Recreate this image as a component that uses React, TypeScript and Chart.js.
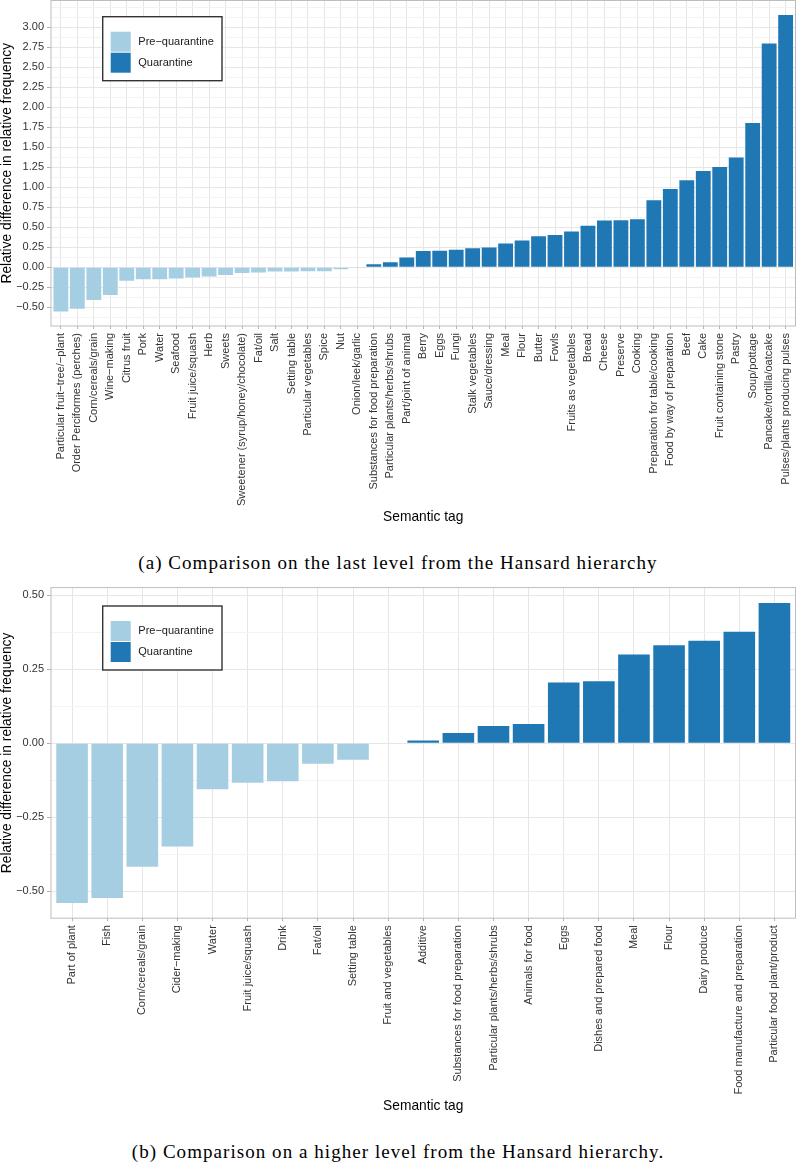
import React, { useEffect, useRef } from 'react';
import { Chart, registerables } from 'chart.js';

Chart.register(...registerables);

// ---------- data ----------
const CATS_A = [
  'Particular fruit−tree/−plant', 'Order Perciformes (perches)', 'Corn/cereals/grain', 'Wine−making',
  'Citrus fruit', 'Pork', 'Water', 'Seafood', 'Fruit juice/squash', 'Herb', 'Sweets',
  'Sweetener (syrup/honey/chocolate)', 'Fat/oil', 'Salt', 'Setting table', 'Particular vegetables',
  'Spice', 'Nut', 'Onion/leek/garlic', 'Substances for food preparation', 'Particular plants/herbs/shrubs',
  'Part/joint of animal', 'Berry', 'Eggs', 'Fungi', 'Stalk vegetables', 'Sauce/dressing', 'Meal',
  'Flour', 'Butter', 'Fowls', 'Fruits as vegetables', 'Bread', 'Cheese', 'Preserve', 'Cooking',
  'Preparation for table/cooking', 'Food by way of preparation', 'Beef', 'Cake',
  'Fruit containing stone', 'Pastry', 'Soup/pottage', 'Pancake/tortilla/oatcake',
  'Pulses/plants producing pulses',
];
const VALS_A = [
  -0.554, -0.52, -0.41, -0.346, -0.17, -0.152, -0.15, -0.142, -0.13, -0.117, -0.096,
  -0.071, -0.067, -0.055, -0.054, -0.05, -0.05, -0.025, -0.003, 0.0375, 0.0625,
  0.12, 0.204, 0.205, 0.217, 0.2375, 0.246, 0.296,
  0.333, 0.3875, 0.404, 0.446, 0.517, 0.583, 0.5875, 0.6,
  0.8375, 0.979, 1.0875, 1.204,
  1.254, 1.371, 1.804, 2.796,
  3.154,
];

const CATS_B = [
  'Part of plant', 'Fish', 'Corn/cereals/grain', 'Cider−making', 'Water', 'Fruit juice/squash',
  'Drink', 'Fat/oil', 'Setting table', 'Fruit and vegetables', 'Additive',
  'Substances for food preparation', 'Particular plants/herbs/shrubs', 'Animals for food', 'Eggs',
  'Dishes and prepared food', 'Meal', 'Flour', 'Dairy produce', 'Food manufacture and preparation',
  'Particular food plant/product',
];
const VALS_B = [
  -0.54, -0.523, -0.417, -0.349, -0.155, -0.133, -0.128, -0.069, -0.056, 0.0, 0.009,
  0.035, 0.058, 0.065, 0.205, 0.21, 0.30, 0.331, 0.346, 0.377, 0.474,
];

const Y_MAJOR_A = [-0.5, -0.25, 0, 0.25, 0.5, 0.75, 1, 1.25, 1.5, 1.75, 2, 2.25, 2.5, 2.75, 3];
const Y_MINOR_A = [-0.625, -0.375, -0.125, 0.125, 0.375, 0.625, 0.875, 1.125, 1.375, 1.625, 1.875,
  2.125, 2.375, 2.625, 2.875, 3.125, 3.25];
const Y_MAJOR_B = [-0.5, -0.25, 0, 0.25, 0.5];
const Y_MINOR_B = [-0.375, -0.125, 0.125, 0.375];

const LEGEND_LABELS = ['Pre−quarantine', 'Quarantine'];
const Y_TITLE = 'Relative difference in relative frequency';
const X_TITLE = 'Semantic tag';
const CAPTION_A = '(a) Comparison on the last level from the Hansard hierarchy';
const CAPTION_B = '(b) Comparison on a higher level from the Hansard hierarchy.';

// ---------- styles ----------
const COLOR_PRE = '#a6cee3';
const COLOR_Q = '#1f78b4';
const SANS = '"Liberation Sans", Arial, Helvetica, sans-serif';
const SERIF = '"Liberation Serif", "Times New Roman", serif';

Chart.defaults.font.family = SANS;

type Cfg = {
  cats: string[];
  vals: number[];
  majors: number[];
  minors: number[];
  yMin: number;
  yMax: number;
  height: number;
  padTop: number;
  xHeight: number;
  xTitlePad: number;
  legendY: number;
};

const isIn = (arr: number[], v: number) => arr.some((m) => Math.abs(m - v) < 1e-9);
const fmt = (v: number) => v.toFixed(2).replace('-', '−');

function overlay(legendY: number) {
  return {
    id: 'overlay',
    afterDatasetsDraw(chart: any) {
      const { ctx, chartArea: a } = chart;
      ctx.save();
      ctx.strokeStyle = '#bdbdbd';
      ctx.lineWidth = 1;
      ctx.strokeRect(a.left, a.top, a.right - a.left, a.bottom - a.top);
      // legend box
      const lx = 102.7, lw = 119.3, lh = 64;
      ctx.fillStyle = '#ffffff';
      ctx.fillRect(lx, legendY, lw, lh);
      ctx.strokeStyle = '#333333';
      ctx.lineWidth = 1.4;
      ctx.strokeRect(lx, legendY, lw, lh);
      const colors = [COLOR_PRE, COLOR_Q];
      ctx.font = `11px ${SANS}`;
      ctx.textBaseline = 'middle';
      ctx.textAlign = 'left';
      LEGEND_LABELS.forEach((lab, i) => {
        const ky = legendY + 15 + i * 21;
        ctx.fillStyle = colors[i];
        ctx.fillRect(lx + 8, ky, 20, 20);
        ctx.fillStyle = '#1a1a1a';
        ctx.fillText(lab, lx + 35.6, ky + 10);
      });
      ctx.restore();
    },
  };
}

const zeroPad = (s: any) => {
  s.paddingTop = 0;
  s.paddingBottom = 0;
  s.paddingLeft = 0;
  s.paddingRight = 0;
};

function BarChart({ cfg, top }: { cfg: Cfg; top: number }) {
  const ref = useRef<HTMLCanvasElement | null>(null);
  useEffect(() => {
    if (!ref.current) return;
    const { cats, vals, majors, minors } = cfg;
    const allTicks = [...majors, ...minors].sort((a, b) => a - b);
    const chart = new Chart(ref.current, {
      type: 'bar',
      data: {
        datasets: [
          {
            data: vals.map((v, i) => ({ x: i, y: v })),
            backgroundColor: vals.map((v) => (v < 0 ? COLOR_PRE : COLOR_Q)),
            borderWidth: 0,
            barPercentage: 0.9,
            categoryPercentage: 1,
          },
        ],
      },
      options: {
        responsive: false,
        animation: false,
        events: [],
        layout: { padding: { top: cfg.padTop, right: 0.5, bottom: 0, left: 0 } },
        plugins: { legend: { display: false }, tooltip: { enabled: false } },
        scales: {
          x: {
            type: 'linear',
            min: -0.6,
            max: cats.length - 1 + 0.6,
            offset: false,
            afterBuildTicks: (s: any) => {
              s.ticks = cats.map((_, i) => ({ value: i }));
            },
            afterFit: (s: any) => {
              s.height = cfg.xHeight;
              zeroPad(s);
            },
            ticks: {
              autoSkip: false,
              minRotation: 90,
              maxRotation: 90,
              padding: 4,
              color: '#333333',
              font: { size: 11, family: SANS },
              callback: (v: any) => cats[Math.round(Number(v))] ?? '',
            },
            grid: {
              offset: false,
              color: '#e6e6e6',
              lineWidth: 1,
              tickColor: '#b3b3b3',
              tickLength: 3,
              tickWidth: 1,
            },
            border: { display: false },
            title: {
              display: true,
              text: X_TITLE,
              color: '#000000',
              font: { size: 13.75, family: SANS, lineHeight: 1.2 },
              padding: { top: 0, bottom: cfg.xTitlePad },
            },
          },
          y: {
            min: cfg.yMin,
            max: cfg.yMax,
            afterBuildTicks: (s: any) => {
              s.ticks = allTicks.map((v) => ({ value: v }));
            },
            afterFit: (s: any) => {
              s.width = 51;
              zeroPad(s);
            },
            ticks: {
              autoSkip: false,
              padding: 3,
              color: '#333333',
              font: { size: 11, family: SANS },
              callback: (v: any) => (isIn(majors, Number(v)) ? fmt(Number(v)) : ''),
            },
            grid: {
              color: (c: any) => (isIn(majors, c.tick?.value) ? '#e6e6e6' : '#f3f3f3'),
              lineWidth: 1,
              tickColor: (c: any) => (isIn(majors, c.tick?.value) ? '#b3b3b3' : 'rgba(0,0,0,0)'),
              tickLength: 4,
              tickWidth: 1,
            },
            border: { display: false },
            title: {
              display: true,
              text: Y_TITLE,
              color: '#000000',
              font: { size: 13.75, family: SANS, lineHeight: 1.1 },
              padding: { top: 0, bottom: 0 },
            },
          },
        },
      } as any,
      plugins: [overlay(cfg.legendY)],
    } as any);
    return () => chart.destroy();
  }, [cfg]);
  return (
    <canvas
      ref={ref}
      width={796}
      height={cfg.height}
      style={{ position: 'absolute', left: 0, top, width: 796, height: cfg.height, display: 'block' }}
    />
  );
}

const CFG_A: Cfg = {
  cats: CATS_A,
  vals: VALS_A,
  majors: Y_MAJOR_A,
  minors: Y_MINOR_A,
  yMin: -0.735,
  yMax: 3.335,
  height: 540,
  padTop: 0.5,
  xHeight: 214,
  xTitlePad: 14.25,
  legendY: 16.7,
};

const CFG_B: Cfg = {
  cats: CATS_B,
  vals: VALS_B,
  majors: Y_MAJOR_B,
  minors: Y_MINOR_B,
  yMin: -0.591,
  yMax: 0.526,
  height: 540,
  padTop: 7.6,
  xHeight: 201.8,
  xTitlePad: 5.75,
  legendY: 26,
};

const captionStyle = (top: number): React.CSSProperties => ({
  position: 'absolute',
  left: 0,
  top,
  width: 796,
  textAlign: 'center',
  fontFamily: SERIF,
  fontSize: 19,
  letterSpacing: '1.05px',
  lineHeight: '20px',
  color: '#000',
  whiteSpace: 'nowrap',
});

export default function App() {
  return (
    <div style={{ position: 'absolute', left: 0, top: 0, width: 796, height: 1162, background: '#fff', overflow: 'hidden' }}>
      <BarChart cfg={CFG_A} top={0} />
      <div style={captionStyle(553)}>{CAPTION_A}</div>
      <BarChart cfg={CFG_B} top={580} />
      <div style={captionStyle(1142)}>{CAPTION_B}</div>
    </div>
  );
}
